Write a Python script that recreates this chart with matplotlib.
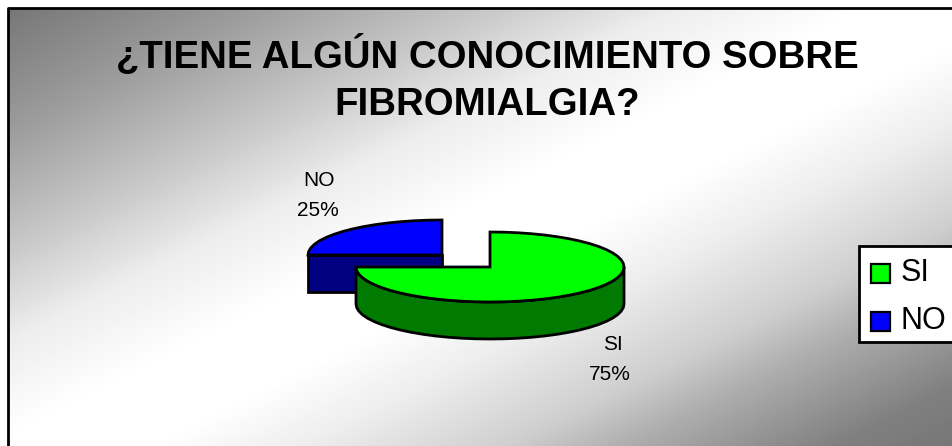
import numpy as np
import matplotlib
matplotlib.use('Agg')
import matplotlib.pyplot as plt
from matplotlib.patches import Rectangle

plt.rcParams['font.family'] = ['Liberation Sans', 'DejaVu Sans']

titulo = '¿TIENE ALGÚN CONOCIMIENTO SOBRE\nFIBROMIALGIA?'
categorias = ['SI', 'NO']
valores = [75, 25]
colores = ['#00ff00', '#0000ff']
colores_lado = ['#007a00', '#000080']

W, H = 953, 446
fig = plt.figure(figsize=(W / 100, H / 100), dpi=100)
ax = fig.add_axes([0, 0, 1, 1])

# fondo degradado: gris arriba-izq, blanco en la diagonal, gris abajo-der
yy, xx = np.mgrid[8:H:300j, 8:W:600j]
f = yy + 0.5 * xx
g = np.interp(f, [15, 125, 250, 345, 440, 520, 600, 700, 760, 865, 930],
              [.47, .6, .78, .93, 1, 1, .93, .81, .68, .5, .46])
ax.imshow(g, cmap='gray', vmin=0, vmax=1, extent=(8, W, H, 8), aspect='auto', zorder=0)
ax.set_xlim(0, W)
ax.set_ylim(H, 0)
ax.axis('off')
ax.plot([8, 8, W], [H, 8, 8], color='black', lw=2, zorder=1)

ax.text(487, 79, titulo, ha='center', va='center', fontsize=27.6, fontweight='bold', linespacing=1.41, zorder=5)


def sector(cx, cy, rx, ry, a1, a2):
    n = max(int(abs(a2 - a1) / 6), 2)
    ang = np.radians(np.linspace(a1, a2, n + 1))
    return cx + rx * np.cos(ang), cy - ry * np.sin(ang)


prof = 37
rx, ry = 134, 35
lw_pie = 2

# los angulos salen de los valores, empezando a las 12 en sentido horario
ang = 90.0
inicio = {}
for v, c in zip(valores, categorias):
    inicio[c] = (ang - v * 3.6, ang)
    ang -= v * 3.6

# NO, separado del SI
cx, cy = 442, 255
a1, a2 = inicio['NO']
x, y = sector(cx, cy, rx, ry, a1, a2)
ax.fill([cx - rx, cx, cx, cx - rx], [cy, cy, cy + prof, cy + prof], fc=colores_lado[1], ec='black', lw=lw_pie, zorder=2)
ax.fill(np.r_[x, cx], np.r_[y, cy], fc=colores[1], ec='black', lw=lw_pie, zorder=3)

# SI
cx, cy = 490, 267
a1, a2 = inicio['SI']
xl, yl = sector(cx, cy, rx, ry, 180, 360)
ax.fill(np.r_[xl, xl[::-1]], np.r_[yl, yl[::-1] + prof], fc=colores_lado[0], ec='black', lw=lw_pie, zorder=4)
x, y = sector(cx, cy, rx, ry, a1, a2)
ax.fill(np.r_[x, cx], np.r_[y, cy], fc=colores[0], ec='black', lw=lw_pie, zorder=5)

# etiquetas
ax.text(319, 181, 'NO', ha='center', va='center', fontsize=15)
ax.text(318, 211, '25%', ha='center', va='center', fontsize=15)
ax.text(613, 345, 'SI', ha='center', va='center', fontsize=15)
ax.text(610, 374, '75%', ha='center', va='center', fontsize=15)

# leyenda
ax.add_patch(Rectangle((859, 246), 110, 96, fc='white', ec='black', lw=2, zorder=6))
for c, col, yc in zip(categorias, colores, [273, 321]):
    ax.add_patch(Rectangle((871, yc - 9.5), 19, 19, fc=col, ec='black', lw=1.6, zorder=7))
    ax.text(901, yc, c, ha='left', va='center', fontsize=22, zorder=7)

fig.savefig('out.png', dpi=100)
